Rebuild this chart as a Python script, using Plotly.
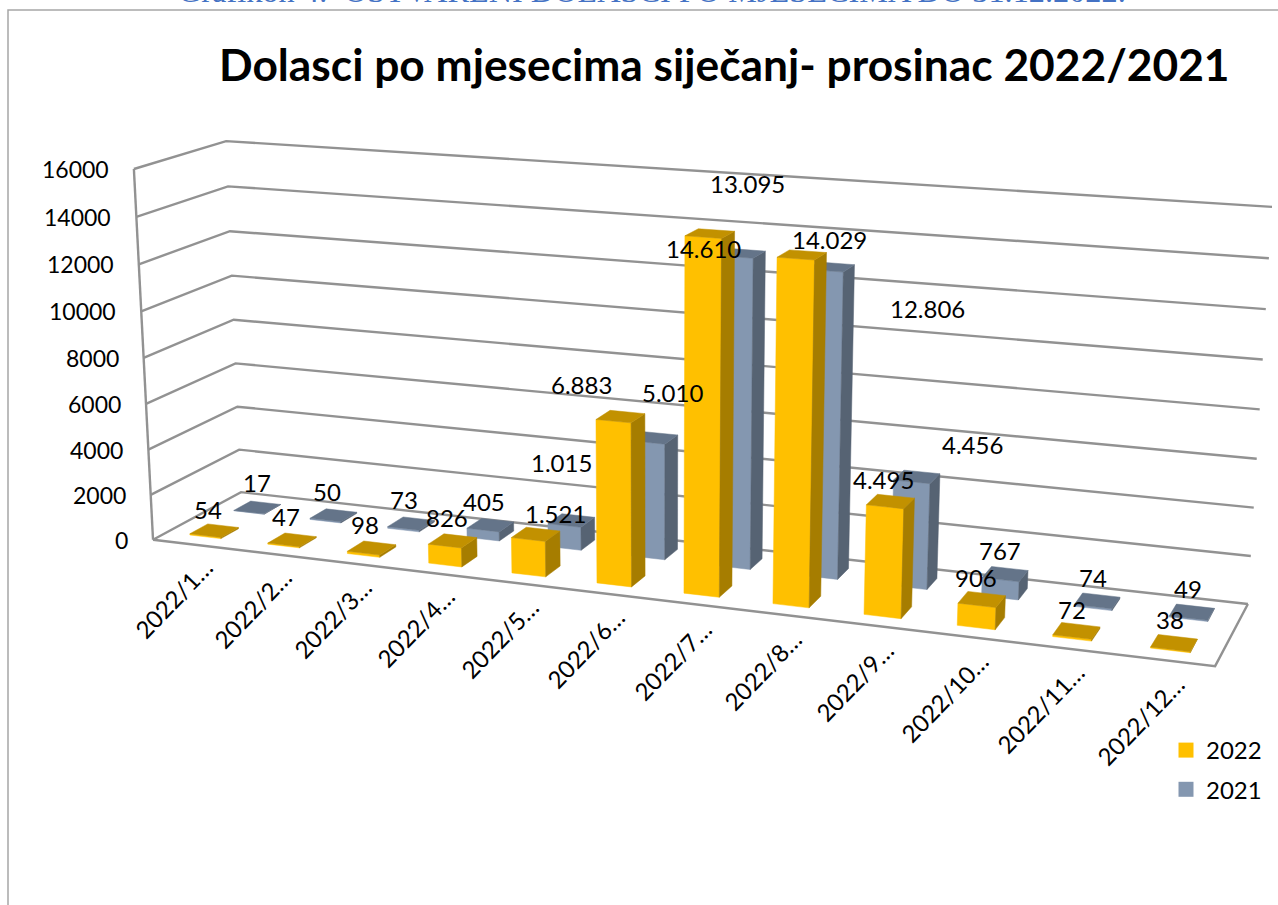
import numpy as np
import plotly.graph_objects as go

# ---------- data ----------
categories = ["2022/1…", "2022/2…", "2022/3…", "2022/4…", "2022/5…", "2022/6…",
              "2022/7…", "2022/8…", "2022/9…", "2022/10…", "2022/11…", "2022/12…"]
values_2022 = [54, 47, 98, 826, 1521, 6883, 14610, 14029, 4495, 906, 72, 38]
values_2021 = [17, 50, 73, 405, 1015, 5010, 13095, 12806, 4456, 767, 74, 49]
value_ticks = [0, 2000, 4000, 6000, 8000, 10000, 12000, 14000, 16000]
TITLE = "Dolasci po mjesecima siječanj- prosinac 2022/2021"
PAGE_CAPTION = "Grafikon 4:  OSTVARENI DOLASCI PO MJESECIMA DO 31.12.2022."

# ---------- layout of labels, in page pixels ----------
label_xy_2022 = [(208, 509), (286, 516), (365, 524), (447, 517), (555, 513), (581, 384),
                 (703, 248), (829, 239), (883, 479), (976, 577), (1072, 609), (1170, 619)]
label_xy_2021 = [(257, 482), (327, 491), (404, 499), (484, 501), (561, 462), (672, 392),
                 (747, 183), (927, 308), (972, 444), (1000, 550), (1093, 577), (1188, 588)]
cat_label_xy = [(173, 598), (252, 608), (332, 618), (415, 627), (499, 638), (585, 648),
                (672, 660), (762, 670), (854, 681), (944, 697), (1040, 708), (1140, 720)]

# ---------- 3D box -> page projection (fitted to the box corners) ----------
corners = [((0, 0, 0), (153, 539)), ((1, 0, 0), (1215, 667)), ((0, 1, 0), (241, 493)),
           ((1, 1, 0), (1248, 603)), ((0, 0, 1), (134, 169)), ((0, 1, 1), (226, 141)),
           ((1, 1, 1), (1272, 207))]
A, b = [], []
for (X, Y, Z), (u, v) in corners:
    A.append([X, Y, Z, 1, 0, 0, 0, 0, -u * X, -u * Y, -u * Z]); b.append(u)
    A.append([0, 0, 0, 0, X, Y, Z, 1, -v * X, -v * Y, -v * Z]); b.append(v)
p = np.linalg.lstsq(np.array(A, float), np.array(b, float), rcond=None)[0]
P = np.append(p, 1.0).reshape(3, 4)
VMAX = value_ticks[-1]
N = len(categories)


def proj(x, y, val):
    h = P @ np.array([x, y, val / VMAX, 1.0])
    return h[0] / h[2], h[1] / h[2]


def polys(faces):
    xs, ys = [], []
    for f in faces:
        pts = [proj(*q) for q in f]
        pts.append(pts[0])
        xs += [a for a, _ in pts] + [None]
        ys += [c for _, c in pts] + [None]
    return xs, ys


BW = 0.4 / N


def bar_faces(values, y0, y1):
    front, side, top = [], [], []
    for i, v in enumerate(values):
        x0 = (i + 0.5) / N - BW / 2
        x1 = x0 + BW
        front.append([(x0, y0, 0), (x1, y0, 0), (x1, y0, v), (x0, y0, v)])
        side.append([(x1, y0, 0), (x1, y1, 0), (x1, y1, v), (x1, y0, v)])
        top.append([(x0, y0, v), (x1, y0, v), (x1, y1, v), (x0, y1, v)])
    return front, side, top


def fill_trace(faces, color):
    xs, ys = polys(faces)
    return go.Scatter(x=xs, y=ys, mode="lines", fill="toself", fillcolor=color,
                      line=dict(color=color, width=0.5), hoverinfo="skip", showlegend=False)


fig = go.Figure()

# walls and floor
GRID = "#929292"
gx, gy = [], []
for t in value_ticks:
    pts = [proj(0, 0, t), proj(0, 1, t), proj(1, 1, t)]
    gx += [a for a, _ in pts] + [None]
    gy += [c for _, c in pts] + [None]
for pts in ([proj(0, 0, 0), proj(0, 0, VMAX)],
            [proj(0, 0, 0), proj(1, 0, 0), proj(1, 1, 0)]):
    gx += [a for a, _ in pts] + [None]
    gy += [c for _, c in pts] + [None]
fig.add_trace(go.Scatter(x=gx, y=gy, mode="lines", line=dict(color=GRID, width=2.4),
                         hoverinfo="skip", showlegend=False))

# bars: back row first, then front row
for vals, (y0, y1), cols in [
    (values_2021, (0.65, 0.85), ("#8497B0", "#566373", "#647489")),
    (values_2022, (0.15, 0.35), ("#FFC000", "#A67D00", "#C29100")),
]:
    f, s, t = bar_faces(vals, y0, y1)
    fig.add_trace(fill_trace(f, cols[0]))
    fig.add_trace(fill_trace(s, cols[1]))
    fig.add_trace(fill_trace(t, cols[2]))

# legend
for name, col in [("2022", "#FFC000"), ("2021", "#8497B0")]:
    fig.add_trace(go.Scatter(x=[None], y=[None], mode="markers", name=name, legendgroup=name,
                             marker=dict(symbol="square", size=15, color=col)))

FONT = "Lato"
SIZE = 24
ann = []
for v, (x, y) in zip(values_2022 + values_2021, label_xy_2022 + label_xy_2021):
    ann.append(dict(x=x, y=y, text=f"{v:,}".replace(",", "."), showarrow=False,
                    font=dict(family=FONT, size=SIZE, color="black")))
for c, (x, y) in zip(categories, cat_label_xy):
    ann.append(dict(x=x, y=y, text=c, textangle=-46, showarrow=False,
                    font=dict(family=FONT, size=SIZE, color="black")))
for t in value_ticks:
    x, y = proj(0, 0, t)
    ann.append(dict(x=x - 23, y=y, text=str(t), xanchor="right", showarrow=False,
                    font=dict(family=FONT, size=23, color="black")))
ann.append(dict(x=724, y=63, text=f"<b>{TITLE}</b>", showarrow=False,
                font=dict(family=FONT, size=44.3, color="black")))
ann.append(dict(x=652, y=11, yanchor="bottom", text=PAGE_CAPTION, showarrow=False,
                font=dict(family="Liberation Serif", size=32.3, color="#4472C4")))

fig.update_layout(
    width=1278, height=905, margin=dict(l=0, r=0, t=0, b=0),
    paper_bgcolor="white", plot_bgcolor="white",
    xaxis=dict(range=[0, 1278], visible=False, fixedrange=True),
    yaxis=dict(range=[905, 0], visible=False, fixedrange=True),
    annotations=ann,
    legend=dict(x=1166 / 1278, y=1 - 728 / 905, xanchor="left", yanchor="top",
                font=dict(family=FONT, size=SIZE, color="black"),
                tracegroupgap=5, bgcolor="rgba(0,0,0,0)", itemwidth=30),
    shapes=[dict(type="rect", xref="x", yref="y", x0=8, y0=10, x1=1290, y1=930,
                 line=dict(color="#A6A6A6", width=1.5), fillcolor="rgba(0,0,0,0)", layer="below")],
)
fig.write_html("out.html", config=dict(displayModeBar=False),
               post_script="document.body.style.margin='0';document.body.style.overflow='hidden';")
